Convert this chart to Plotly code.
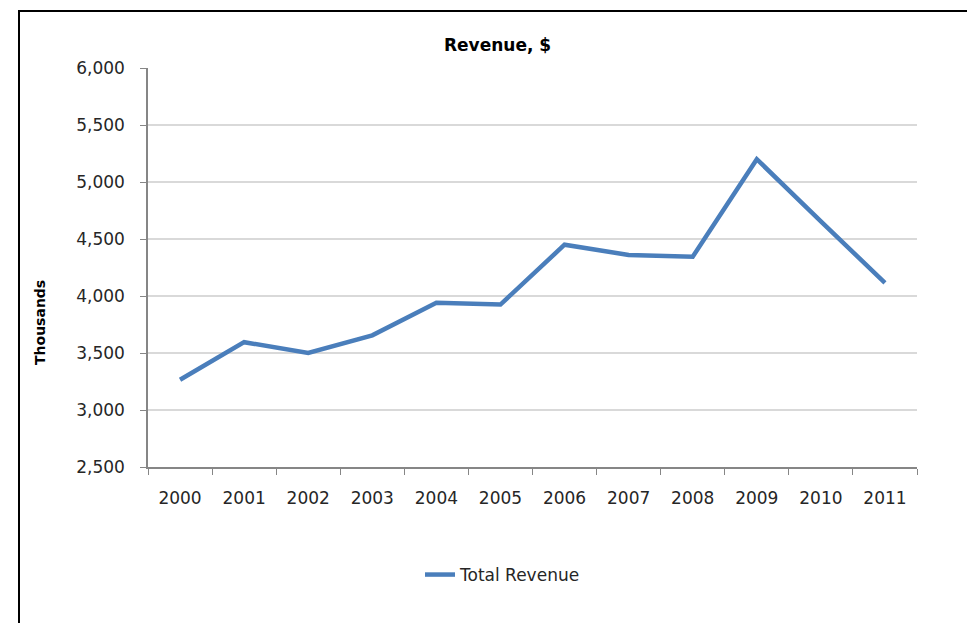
import plotly.graph_objects as go

years = ["2000", "2001", "2002", "2003", "2004", "2005", "2006", "2007", "2008", "2009", "2010", "2011"]
total_revenue = [3265, 3595, 3500, 3655, 3940, 3925, 4450, 4360, 4345, 5200, 4655, 4115]
y_ticks = [2500, 3000, 3500, 4000, 4500, 5000, 5500, 6000]

W, H = 975, 623
OFF = 8  # default page body margin
L, R, T, B = 148, 917, 68, 467  # plot area in page pixels

def px_x(p):
    return (p - L) / (R - L)

def px_y(p):
    return (B - p) / (B - T)

FONT = "DejaVu Sans"
TXT = "#262626"
AX = "#868686"

fig = go.Figure()
fig.add_trace(go.Scatter(
    x=years, y=total_revenue, mode="lines", name="Total Revenue",
    line=dict(color="#4A7EBB", width=4.5),
))

fig.update_layout(
    width=W, height=H,
    margin=dict(l=L - OFF, r=W - R + OFF, t=T - OFF, b=H - B + OFF, pad=0),
    paper_bgcolor="white", plot_bgcolor="white",
    font=dict(family=FONT, size=17, color=TXT),
    showlegend=True,
    legend=dict(orientation="h", x=px_x(503), xanchor="center", y=px_y(575), yanchor="middle",
                font=dict(size=17, color=TXT), bgcolor="rgba(0,0,0,0)"),
    xaxis=dict(
        type="category", range=[-0.5, 11.5], tickson="boundaries", ticks="outside", ticklen=6,
        tickcolor=AX, showline=True, linecolor=AX, linewidth=1.5,
        showgrid=False, tickfont=dict(size=17, color=TXT), ticklabelstandoff=15,
    ),
    yaxis=dict(
        range=[2500, 6000], tickvals=y_ticks, tickformat=",d", ticks="outside", ticklen=6,
        tickcolor=AX, showline=True, linecolor=AX, linewidth=1.5,
        showgrid=True, gridcolor="#D9D9D9", gridwidth=1.5, zeroline=False,
        tickfont=dict(size=17, color=TXT), ticklabelstandoff=12,
    ),
    annotations=[
        dict(text="<b>Revenue, $</b>", xref="paper", yref="paper", x=px_x(497), y=px_y(45),
             xanchor="center", yanchor="middle", showarrow=False,
             font=dict(family=FONT, size=17, color="black")),
        dict(text="<b>Thousands</b>", xref="paper", yref="paper", x=px_x(40), y=px_y(323),
             xanchor="center", yanchor="middle", textangle=-90, showarrow=False,
             font=dict(family=FONT, size=14, color="black")),
    ],
    shapes=[dict(type="rect", xref="paper", yref="paper",
                 x0=px_x(19), x1=px_x(1000), y0=px_y(660), y1=px_y(11),
                 line=dict(color="black", width=2), fillcolor="rgba(0,0,0,0)", layer="below")],
)

fig.write_html("out.html")
